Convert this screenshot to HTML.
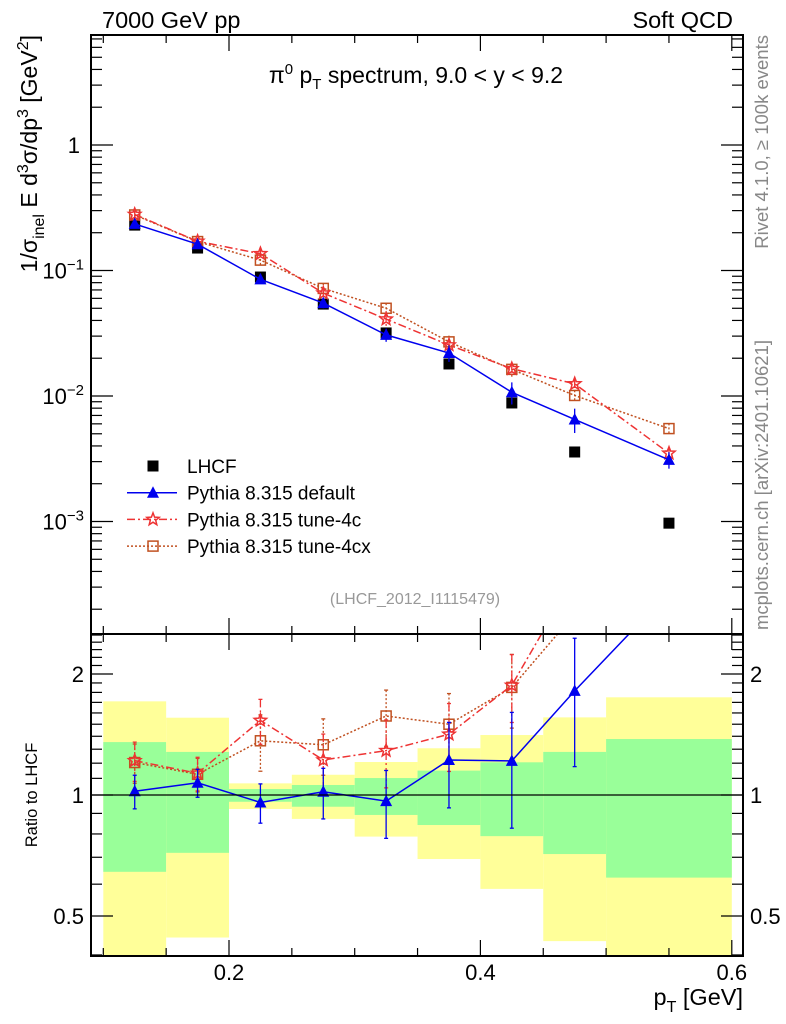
<!DOCTYPE html>
<html><head><meta charset="utf-8"><style>
html,body{margin:0;padding:0;background:#fff}
svg{display:block;font-family:"Liberation Sans",Arial,sans-serif}
</style></head><body>
<svg id="c" width="786" height="1024" viewBox="0 0 786 1024" xmlns="http://www.w3.org/2000/svg">
<defs>
<clipPath id="clipTop"><rect x="91" y="35" width="652" height="599"/></clipPath>
<clipPath id="clipRat"><rect x="91" y="634" width="652" height="322"/></clipPath>
</defs>
<g id="bands" clip-path="url(#clipRat)"></g>
<g id="marks"></g>
<g id="axes"></g>
<text x="102" y="28" font-size="23.5">7000 GeV pp</text>
<text x="733" y="28" font-size="23.5" text-anchor="end">Soft QCD</text>
<text x="416" y="83" font-size="23" text-anchor="middle">π<tspan dy="-9" font-size="15">0</tspan><tspan dy="9"> p</tspan><tspan dy="6" font-size="15">T</tspan><tspan dy="-6"> spectrum, 9.0 &lt; y &lt; 9.2</tspan></text>
<text transform="translate(37,35) rotate(-90)" font-size="23" text-anchor="end">1/σ<tspan dy="7" font-size="16">inel</tspan><tspan dy="-7"> E d</tspan><tspan dy="-9" font-size="16">3</tspan><tspan dy="9">σ/dp</tspan><tspan dy="-9" font-size="16">3</tspan><tspan dy="9"> [GeV</tspan><tspan dy="-9" font-size="16">2</tspan><tspan dy="9">]</tspan></text>
<text transform="translate(768,35) rotate(-90)" font-size="18.5" fill="#888" text-anchor="end">Rivet 4.1.0, ≥ 100k events</text>
<text transform="translate(768,630) rotate(-90)" font-size="18.5" fill="#888">mcplots.cern.ch [arXiv:2401.10621]</text>
<text x="415" y="604" font-size="16" fill="#999" text-anchor="middle">(LHCF_2012_I1115479)</text>
<text transform="translate(37,795) rotate(-90)" font-size="16.5" text-anchor="middle">Ratio to LHCF</text>
<text x="743" y="1005" font-size="23.5" text-anchor="end">p<tspan dy="7" font-size="16">T</tspan><tspan dy="-7"> [GeV]</tspan></text>
<g id="legend"></g>
</svg>
<script>
const binCenters=[0.125,0.175,0.225,0.275,0.325,0.375,0.425,0.475,0.55];
const binEdges=[0.1,0.15,0.2,0.25,0.3,0.35,0.4,0.45,0.5,0.6];
const lhcf=[0.23,0.151,0.0887,0.054,0.0318,0.018,0.0088,0.00358,0.00097];
const pyDefault=[0.235,0.162,0.085,0.055,0.0307,0.022,0.0107,0.0065,0.0031];
const pyTune4c=[0.28,0.171,0.136,0.066,0.041,0.0255,0.0165,0.0125,0.0035];
const pyTune4cx=[0.277,0.17,0.121,0.072,0.05,0.027,0.0163,0.0101,0.0055];
const errDefault=[0.06,0.05,0.07,0.09,0.12,0.15,0.2,0.22,0.15];
const err4c=[0.07,0.06,0.08,0.1,0.12,0.12,0.12,0.1,0.12];
const err4cx=[0.07,0.06,0.1,0.1,0.1,0.12,0.13,0.1,0.1];
const green1Hi=[1.354,1.28,1.035,1.059,1.102,1.15,1.206,1.28,1.378];
const green1Lo=[0.644,0.718,0.962,0.935,0.892,0.842,0.79,0.713,0.623];
const yellowHi=[1.71,1.557,1.069,1.123,1.208,1.307,1.41,1.56,1.75];
const yellowLo=[0.35,0.442,0.923,0.872,0.788,0.693,0.584,0.433,0.35];
const xTickLabels=[0.2,0.4,0.6];
const ratioTickLabels=[0.5,1,2];

const NS="http://www.w3.org/2000/svg";
const X=v=>103.3+(v-0.1)*1257;
const Y=v=>145-125.5*Math.log10(v);
const R=v=>795-121*Math.log2(v);
function mk(tag,attrs,parent){const e=document.createElementNS(NS,tag);for(const k in attrs)e.setAttribute(k,attrs[k]);parent.appendChild(e);return e;}
const bands=document.getElementById('bands'),marks=document.getElementById('marks'),axes=document.getElementById('axes'),legend=document.getElementById('legend');

for(let i=0;i<binCenters.length;i++){
  const x0=X(binEdges[i]),x1=X(binEdges[i+1]);
  const y=mk('rect',{x:x0,y:R(yellowHi[i]),width:x1-x0,height:R(yellowLo[i])-R(yellowHi[i]),fill:'#ffff99'},bands);
  
  
  const g=mk('rect',{x:x0,y:R(green1Hi[i]),width:x1-x0,height:R(green1Lo[i])-R(green1Hi[i]),fill:'#99ff99'},bands);
  
  
}
const one=mk('line',{x1:91,x2:743,y1:R(1),y2:R(1),stroke:'#000','stroke-width':1.3},axes);



function marker(type,cx,cy,color,parent){
  let e;
  if(type==='sq') e=mk('rect',{x:cx-5.5,y:cy-5.5,width:11,height:11,fill:'#000'},parent);
  else if(type==='tri') e=mk('polygon',{points:`${cx},${cy-6.5} ${cx-6},${cy+5} ${cx+6},${cy+5}`,fill:color},parent);
  else if(type==='star'){let p=[];for(let k=0;k<10;k++){const r=k%2?2.8:6.5,a=-Math.PI/2+k*Math.PI/5;p.push((cx+r*Math.cos(a)).toFixed(1)+','+(cy+r*Math.sin(a)).toFixed(1));}
    e=mk('polygon',{points:p.join(' '),fill:'none',stroke:color,'stroke-width':1.5},parent);}
  else e=mk('rect',{x:cx-5,y:cy-5,width:10,height:10,fill:'none',stroke:color,'stroke-width':1.5},parent);
  return e;
}
const series=[
 {name:'default',vals:pyDefault,err:errDefault,color:'#0000ee',dash:'',m:'tri'},
 {name:'tune-4c',vals:pyTune4c,err:err4c,color:'#ee3333',dash:'8,3,2,3',m:'star'},
 {name:'tune-4cx',vals:pyTune4cx,err:err4cx,color:'#c05020',dash:'2,2',m:'box'}];

const gTop=mk('g',{'clip-path':'url(#clipTop)'},marks);
const gRat=mk('g',{'clip-path':'url(#clipRat)'},marks);
lhcf.forEach((v,i)=>{const e=marker('sq',X(binCenters[i]),Y(v),'#000',gTop);
  
  });
series.slice().reverse().forEach(s=>{
  const pts=s.vals.map((v,i)=>X(binCenters[i])+','+Y(v)).join(' ');
  const l=mk('polyline',{points:pts,fill:'none',stroke:s.color,'stroke-width':1.5,'stroke-dasharray':s.dash},gTop);
  
  
  const rpts=s.vals.map((v,i)=>X(binCenters[i])+','+R(v/lhcf[i])).join(' ');
  const rl=mk('polyline',{points:rpts,fill:'none',stroke:s.color,'stroke-width':1.5,'stroke-dasharray':s.dash},gRat);
  
  
  s.vals.forEach((v,i)=>{
    const cx=X(binCenters[i]);
    const hi=v*(1+s.err[i]),lo=v*(1-s.err[i]);
    mk('line',{x1:cx,x2:cx,y1:Y(hi),y2:Y(lo),stroke:s.color,'stroke-width':1.3,'stroke-dasharray':s.dash},gTop);
    const p=marker(s.m,cx,Y(v),s.color,gTop);
    
    
    const r=v/lhcf[i];
    if(R(r)<630) return;
    const rh=r*(1+s.err[i]*1.6),rlo=r*(1-s.err[i]*1.6);
    mk('line',{x1:cx,x2:cx,y1:R(rh),y2:R(rlo),stroke:s.color,'stroke-width':1.3,'stroke-dasharray':s.dash},gRat);
    mk('line',{x1:cx-2,x2:cx+2,y1:R(rh),y2:R(rh),stroke:s.color,'stroke-width':1.3},gRat);
    mk('line',{x1:cx-2,x2:cx+2,y1:R(rlo),y2:R(rlo),stroke:s.color,'stroke-width':1.3},gRat);
    const rp=marker(s.m,cx,R(r),s.color,gRat);
    
    
  });
});

const f1=mk('rect',{x:91,y:35,width:652,height:599,fill:'none',stroke:'#000','stroke-width':2},axes);


const f2=mk('rect',{x:91,y:634,width:652,height:322,fill:'none',stroke:'#000','stroke-width':2},axes);


for(let k=2;k<=12;k++){const v=k*0.05,x=X(v);const L=(k%4===0)?16:8;
  [[35,1],[634,-1],[634,1],[956,-1]].forEach(([y0,d])=>mk('line',{x1:x,x2:x,y1:y0,y2:y0+d*L,stroke:'#000','stroke-width':1.2},axes));}
xTickLabels.forEach(v=>{const t=mk('text',{x:X(v),y:980,'font-size':22,'text-anchor':'middle'},axes);t.textContent=v.toFixed(1);
  
  });
for(let d=-4;d<=0;d++){for(let m=1;m<=9;m++){const v=m*Math.pow(10,d),y=Y(v);if(y<35||y>634)continue;const L=m===1?22:11;
  mk('line',{x1:91,x2:91+L,y1:y,y2:y,stroke:'#000','stroke-width':1.2},axes);mk('line',{x1:743,x2:743-L,y1:y,y2:y,stroke:'#000','stroke-width':1.2},axes);}}
[[0,'1'],[-1,'10'],[-2,'10'],[-3,'10']].forEach(([d,s])=>{const t=mk('text',{x:d===0?80:84,y:Y(Math.pow(10,d))+8,'font-size':22,'text-anchor':'end'},axes);
  t.textContent=s;if(d!==0){const sp=mk('tspan',{dy:-9,'font-size':15},t);sp.textContent='−'+(-d);}
  
  });
const rt=[0.4,0.5,0.6,0.7,0.8,0.9,1,1.1,1.2,1.3,1.4,1.5,1.6,1.7,1.8,1.9,2,2.1,2.2,2.3,2.4,2.5];
rt.forEach(v=>{const y=R(v);if(y<634||y>956)return;const L=ratioTickLabels.includes(v)?22:11;
  mk('line',{x1:91,x2:91+L,y1:y,y2:y,stroke:'#000','stroke-width':1.2},axes);mk('line',{x1:743,x2:743-L,y1:y,y2:y,stroke:'#000','stroke-width':1.2},axes);});
ratioTickLabels.forEach(v=>{[[84,'end'],[750,'start']].forEach(([x,a])=>{const t=mk('text',{x:x,y:R(v)+8,'font-size':22,'text-anchor':a},axes);t.textContent=String(v);
  
  });});
const lg=[{t:'LHCF',m:'sq',c:'#000'}].concat(series.map(s=>({t:'Pythia 8.315 '+s.name,m:s.m,c:s.color,dash:s.dash})));
lg.forEach((e,i)=>{const y=466+i*26.7;
  if(i>0)mk('line',{x1:127,x2:177,y1:y,y2:y,stroke:e.c,'stroke-width':1.5,'stroke-dasharray':e.dash},legend);
  marker(e.m,153,y,e.c,legend);
  const t=mk('text',{x:187,y:y+7,'font-size':19},legend);t.textContent=e.t;
  
  });
</script>
</body></html>
